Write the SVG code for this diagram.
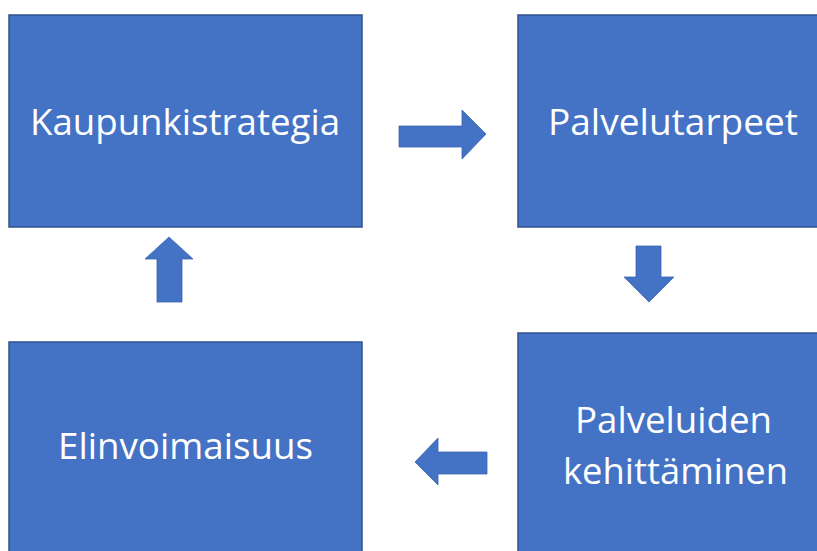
<svg xmlns="http://www.w3.org/2000/svg" width="817" height="551" viewBox="0 0 817 551">
<style>
.box{fill:#4472C4;stroke:#2F528F;stroke-width:1.5}
.lbl{fill:#FFFFFF;font-family:"Open Sans","Noto Sans","Liberation Sans",sans-serif;font-size:37px}
.arr{fill:#4472C4;stroke:#3A64B0;stroke-width:0.8}
</style>
<rect width="817" height="551" fill="#FFFFFF"/>
<g id="kaupunkistrategia">
<rect class="box" x="9" y="15" width="353" height="212"/>
<text class="lbl" x="30" y="135" textLength="310" lengthAdjust="spacingAndGlyphs">Kaupunkistrategia</text>
</g>
<g id="palvelutarpeet">
<rect class="box" x="518" y="15" width="310" height="212"/>
<text class="lbl" x="548" y="135" textLength="250" lengthAdjust="spacingAndGlyphs">Palvelutarpeet</text>
</g>
<g id="elinvoimaisuus">
<rect class="box" x="9" y="342" width="353" height="220"/>
<text class="lbl" x="58" y="459" textLength="255" lengthAdjust="spacingAndGlyphs">Elinvoimaisuus</text>
</g>
<g id="palveluiden-kehittaminen">
<rect class="box" x="518" y="333" width="310" height="230"/>
<text class="lbl" x="575" y="433" textLength="197" lengthAdjust="spacingAndGlyphs">Palveluiden</text>
<text class="lbl" x="563" y="484" textLength="225" lengthAdjust="spacingAndGlyphs">kehittäminen</text>
</g>
<g id="connectors">
<polygon class="arr" points="399,126 462,126 462,110 486,134 462,159 462,147 399,147"/>
<polygon class="arr" points="636,246 661,246 661,277 674,277 649,302 624,277 636,277"/>
<polygon class="arr" points="487,452 438,452 438,438 415,462 438,485 438,474 487,474"/>
<polygon class="arr" points="157,302 157,259 145,259 169,237 193,259 182,259 182,302"/>
</g>
</svg>
